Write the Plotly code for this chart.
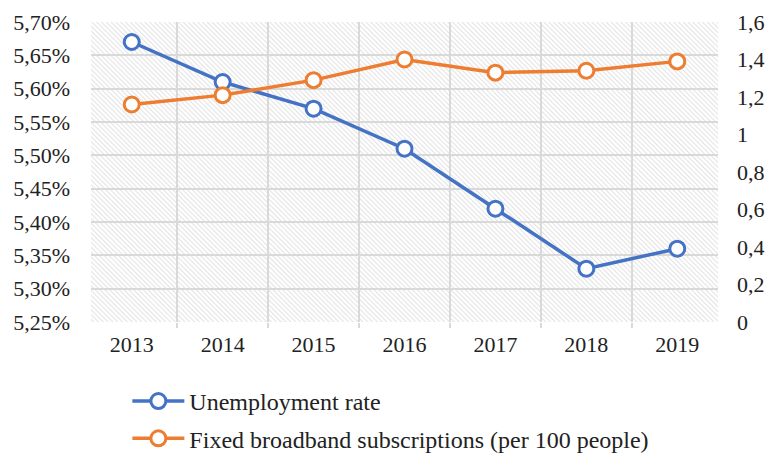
import plotly.graph_objects as go
import base64

years = ["2013", "2014", "2015", "2016", "2017", "2018", "2019"]
unemployment = [0.0567, 0.0561, 0.0557, 0.0551, 0.0542, 0.0533, 0.0536]
broadband = [1.16, 1.21, 1.29, 1.40, 1.33, 1.34, 1.39]

BLUE = "#4472C4"
ORANGE = "#ED7D31"
FONT = "Liberation Serif"

# hatched plot-area background (decorative)
W, H = 627, 300
svg = f'''<svg xmlns="http://www.w3.org/2000/svg" width="{W}" height="{H}" viewBox="0 0 {W} {H}">
<defs><pattern id="h" patternUnits="userSpaceOnUse" width="3.4" height="3.4" patternTransform="rotate(-45)">
<rect width="3.4" height="3.4" fill="#ffffff"/>
<line x1="0.6" y1="0" x2="0.6" y2="3.4" stroke="#dedede" stroke-width="0.9"/></pattern></defs>
<rect width="{W}" height="{H}" fill="url(#h)"/></svg>'''
src = "data:image/svg+xml;base64," + base64.b64encode(svg.encode()).decode()

fig = go.Figure()
fig.add_trace(go.Scatter(
    x=years, y=unemployment, name="Unemployment rate", mode="lines+markers",
    line=dict(color=BLUE, width=3.5),
    marker=dict(symbol="circle", size=15, color="white", line=dict(color=BLUE, width=3)),
    legendgroup="a", yaxis="y"))
fig.add_trace(go.Scatter(
    x=years, y=broadband, name="Fixed broadband subscriptions (per 100 people)",
    mode="lines+markers",
    line=dict(color=ORANGE, width=3.5),
    marker=dict(symbol="circle", size=15, color="white", line=dict(color=ORANGE, width=3)),
    legendgroup="b", yaxis="y2"))

fig.update_layout(
    width=771, height=454,
    margin=dict(l=91, r=53, t=22, b=132, autoexpand=False),
    paper_bgcolor="white", plot_bgcolor="rgba(0,0,0,0)",
    separators=", ",
    font=dict(family=FONT, size=22, color="#222222"),
    images=[dict(source=src, xref="paper", yref="paper", x=0, y=1, sizex=1, sizey=1,
                 xanchor="left", yanchor="top", sizing="stretch", layer="below")],
    xaxis=dict(type="category", tickson="boundaries", showgrid=True, gridcolor="#d9d9d9",
               gridwidth=2, ticks="outside", ticklen=5, tickcolor="#d9d9d9", tickwidth=2,
               showline=False, zeroline=False, tickfont=dict(size=22, family=FONT),
               ticklabelstandoff=7, automargin=False),
    yaxis=dict(range=[0.0525, 0.0570], dtick=0.0005, tick0=0.0525, tickformat=".2%",
               showgrid=True, gridcolor="#d9d9d9", gridwidth=2, zeroline=False,
               showline=False, ticks="", ticklabelstandoff=20, automargin=False,
               tickfont=dict(size=22, family=FONT)),
    yaxis2=dict(range=[0, 1.6], dtick=0.2, overlaying="y", side="right", showgrid=False,
                zeroline=False, showline=False, ticks="", ticklabelstandoff=18,
                automargin=False, tickfont=dict(size=22, family=FONT)),
    legend=dict(orientation="v", x=0.058, y=-0.19, xanchor="left", yanchor="top",
                font=dict(size=24, family=FONT), tracegroupgap=3, itemwidth=52,
                bgcolor="rgba(0,0,0,0)"),
    showlegend=True,
)

fig.write_html("out.html", config={"displayModeBar": False},
               post_script="document.body.style.margin='0';")
